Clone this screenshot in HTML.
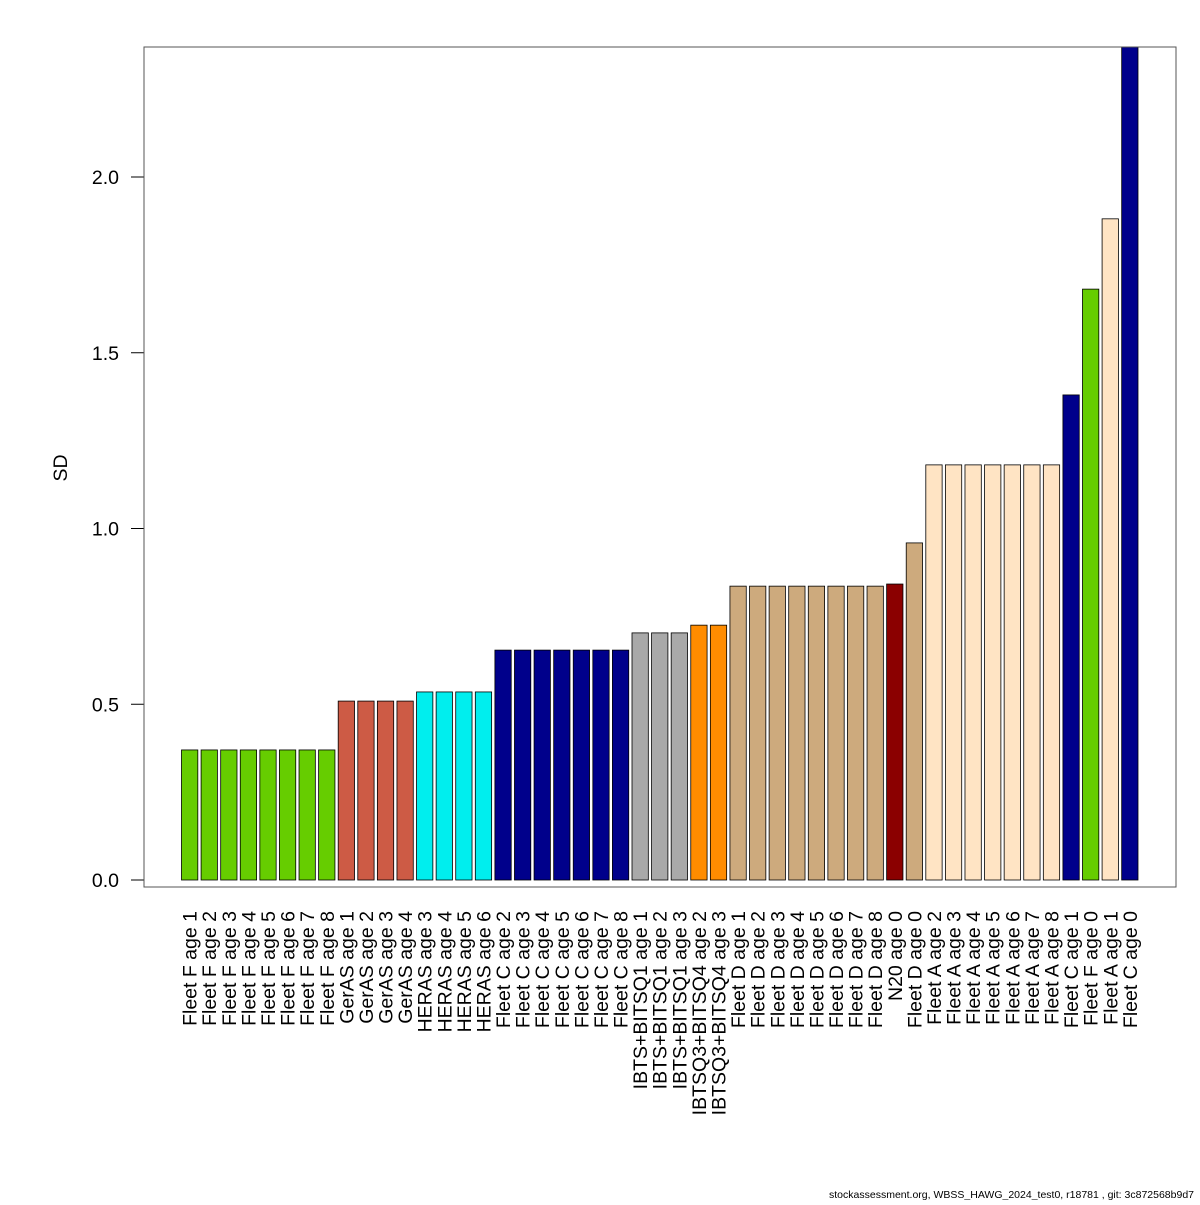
<!DOCTYPE html>
<html><head><meta charset="utf-8">
<style>
html,body{margin:0;padding:0;background:#fff;}
svg text{font-family:"Liberation Sans",Arial,sans-serif;}
</style></head>
<body>
<svg id="chart" width="1200" height="1200" xmlns="http://www.w3.org/2000/svg">
<defs><clipPath id="plotclip"><rect x="144" y="47" width="1032" height="840"/></clipPath></defs>
<rect x="0" y="0" width="1200" height="1200" fill="#fff"/>
<g id="bars" clip-path="url(#plotclip)"></g>
<g id="xlabels"></g>
<g id="yaxis"></g>
<rect x="144" y="47" width="1032" height="840" fill="none" stroke="#555" stroke-width="1"/>
<text x="67" y="468" font-size="19.5" text-anchor="middle" transform="rotate(-90 67 468)">SD</text>
<text x="1194" y="1198" font-size="10.5" text-anchor="end">stockassessment.org, WBSS_HAWG_2024_test0, r18781 , git: 3c872568b9d7</text>
</svg>
<script>
const labels = ["Fleet F age 1","Fleet F age 2","Fleet F age 3","Fleet F age 4","Fleet F age 5","Fleet F age 6","Fleet F age 7","Fleet F age 8",
"GerAS age 1","GerAS age 2","GerAS age 3","GerAS age 4",
"HERAS age 3","HERAS age 4","HERAS age 5","HERAS age 6",
"Fleet C age 2","Fleet C age 3","Fleet C age 4","Fleet C age 5","Fleet C age 6","Fleet C age 7","Fleet C age 8",
"IBTS+BITSQ1 age 1","IBTS+BITSQ1 age 2","IBTS+BITSQ1 age 3",
"IBTSQ3+BITSQ4 age 2","IBTSQ3+BITSQ4 age 3",
"Fleet D age 1","Fleet D age 2","Fleet D age 3","Fleet D age 4","Fleet D age 5","Fleet D age 6","Fleet D age 7","Fleet D age 8",
"N20 age 0","Fleet D age 0",
"Fleet A age 2","Fleet A age 3","Fleet A age 4","Fleet A age 5","Fleet A age 6","Fleet A age 7","Fleet A age 8",
"Fleet C age 1","Fleet F age 0","Fleet A age 1","Fleet C age 0"];
const values = [0.37,0.37,0.37,0.37,0.37,0.37,0.37,0.37,
0.509,0.509,0.509,0.509,
0.535,0.535,0.535,0.535,
0.654,0.654,0.654,0.654,0.654,0.654,0.654,
0.703,0.703,0.703,
0.725,0.725,
0.836,0.836,0.836,0.836,0.836,0.836,0.836,0.836,
0.842,0.959,
1.181,1.181,1.181,1.181,1.181,1.181,1.181,
1.38,1.681,1.881,2.45];
const groupColors = {"Fleet F":"#66CD00","GerAS":"#CD5B45","HERAS":"#00EEEE","Fleet C":"#00008B","IBTS+BITSQ1":"#A9A9A9","IBTSQ3+BITSQ4":"#FF8C00","Fleet D":"#CDAA7D","N20":"#8B0000","Fleet A":"#FFE4C4"};
const yTicks = [0,0.5,1.0,1.5,2.0];
const yTickLabels = ["0.0","0.5","1.0","1.5","2.0"];

const NS="http://www.w3.org/2000/svg";
const y0=880, ppu=351.5;
function yScale(v){return y0 - v*ppu;}
const pitch=19.587, bw=pitch/1.2;
function xLeft(i){return 181.5 + i*pitch;}
const bars=document.getElementById('bars'), xl=document.getElementById('xlabels'), ya=document.getElementById('yaxis');
labels.forEach((lab,i)=>{
  const grp=lab.replace(/ age \d+$/,'');
  const r=document.createElementNS(NS,'rect');
  const top=yScale(values[i]);
  r.setAttribute('x',xLeft(i)); r.setAttribute('y',top);
  r.setAttribute('width',bw); r.setAttribute('height',y0-top);
  r.setAttribute('fill',groupColors[grp]); r.setAttribute('stroke','#000'); r.setAttribute('stroke-width','0.8');
  
  
  bars.appendChild(r);
  const t=document.createElementNS(NS,'text');
  const cx=xLeft(i)+bw/2+7, cy=911;
  t.setAttribute('x',cx); t.setAttribute('y',cy);
  t.setAttribute('font-size','19.5'); t.setAttribute('text-anchor','end');
  t.setAttribute('transform','rotate(-90 '+cx+' '+cy+')');
  t.textContent=lab;
  
  
  xl.appendChild(t);
});
const axl=document.createElementNS(NS,'line');
axl.setAttribute('x1',144);axl.setAttribute('x2',144);axl.setAttribute('y1',yScale(0));axl.setAttribute('y2',yScale(2));axl.setAttribute('stroke','#000');


ya.appendChild(axl);
yTicks.forEach((v,i)=>{
  const y=yScale(v);
  const l=document.createElementNS(NS,'line');
  l.setAttribute('x1',131);l.setAttribute('x2',144);l.setAttribute('y1',y);l.setAttribute('y2',y);l.setAttribute('stroke','#000');
  
  
  ya.appendChild(l);
  const t=document.createElementNS(NS,'text');
  t.setAttribute('x',119);t.setAttribute('y',y+7);t.setAttribute('font-size','19.5');t.setAttribute('text-anchor','end');
  t.textContent=yTickLabels[i];
  
  
  ya.appendChild(t);
});
</script>
</body></html>
